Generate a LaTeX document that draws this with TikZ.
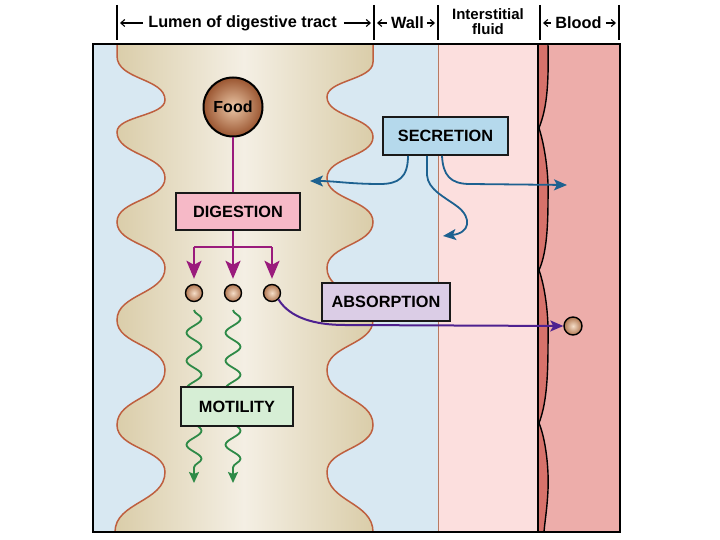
\documentclass[tikz,border=0pt]{standalone}
\usepackage{fontspec}
\setmainfont{Liberation Sans}
\usetikzlibrary{arrows.meta,decorations.pathmorphing,calc}
\definecolor{bluebg}{HTML}{D8E8F2}
\definecolor{pinkbg}{HTML}{FCDFDE}
\definecolor{bloodc}{HTML}{EDADAA}
\definecolor{stripc}{HTML}{D7726B}
\definecolor{lumdark}{HTML}{DACDA9}
\definecolor{lumlight}{HTML}{F4EFE4}
\definecolor{wavec}{HTML}{BE5F3F}
\definecolor{wallc}{HTML}{B97A62}
\definecolor{magc}{HTML}{9A1B7C}
\definecolor{arrblue}{HTML}{1D6190}
\definecolor{purpc}{HTML}{4E2190}
\definecolor{greenc}{HTML}{2E8A47}
\definecolor{digfill}{HTML}{F6B9C7}
\definecolor{secfill}{HTML}{B5D9EC}
\definecolor{absfill}{HTML}{DBCDE6}
\definecolor{motfill}{HTML}{D6EED5}
\definecolor{foodin}{HTML}{EAC6A6}
\definecolor{foodout}{HTML}{9A5530}
\definecolor{ballin}{HTML}{F5DDC8}
\definecolor{ballout}{HTML}{B07650}
\begin{document}
\begin{tikzpicture}[x=1pt,y=-1pt,
  boxnode/.style={draw=black!90, line width=1.6pt, inner sep=0pt,
    font=\fontsize{16.3}{18}\selectfont\bfseries},
  hdr/.style={font=\fontsize{16.3}{14.5}\selectfont\bfseries, inner sep=0pt, align=center},
  hdrsmall/.style={font=\fontsize{15}{15.5}\selectfont\bfseries, inner sep=0pt, align=center},
  hdrarrow/.style={line width=1.1pt, -{Straight Barb[length=4pt,width=7pt]}},
  tick/.style={line width=1.4pt},
  ballnode/.style={circle, draw=black, line width=1.4pt, inner sep=0pt,
    inner color=ballin, outer color=ballout, minimum size=17pt},
  magline/.style={magc, line width=2.4pt},
  magarrow/.style={magc, line width=2.4pt, -{Stealth[length=18pt,width=15pt,inset=4pt]}},
  secarrow/.style={arrblue, line width=1.8pt, -{Stealth[length=13pt,width=11pt,inset=3pt]}},
  absarrow/.style={purpc, line width=2pt, -{Stealth[length=13pt,width=11pt,inset=3pt]}},
  motarrow/.style={greenc, line width=1.8pt, decorate,
    decoration={snake, amplitude=7.5pt, segment length=28pt, post length=9pt},
    -{Stealth[length=11pt,width=10pt,inset=2pt]}}
]
\useasboundingbox (0,0) rectangle (720,540);

% backgrounds
\fill[bluebg] (93,44) rectangle (438,532);
\fill[pinkbg] (438,44) rectangle (538,532);
\fill[bloodc] (538,44) rectangle (620,532);
\fill[stripc] (538,44) -- (548,44)
  .. controls (549,90) and (546,110) .. (539,128)
  .. controls (546,150) and (549,180) .. (548,200)
  .. controls (548,230) and (546,255) .. (539,270)
  .. controls (546,290) and (549,320) .. (548,345)
  .. controls (548,380) and (546,405) .. (539,423)
  .. controls (546,440) and (549,470) .. (548,490)
  .. controls (547,510) and (545,520) .. (544,532)
  -- (538,532) -- cycle;

% lumen
\path[left color=lumdark, right color=lumdark, middle color=lumlight]
  (117,44) -- (117,56)
  .. controls (117,80) and (165,78) .. (165,100)
  .. controls (165,116) and (117,116) .. (117,132)
  .. controls (117,155) and (165,155) .. (165,178)
  .. controls (165,200) and (117,200) .. (117,222)
  .. controls (117,245) and (165,245) .. (165,268)
  .. controls (165,294) and (117,294) .. (117,320)
  .. controls (117,345) and (165,345) .. (165,370)
  .. controls (165,398) and (117,398) .. (117,425)
  .. controls (117,449) and (165,449) .. (165,472)
  .. controls (165,502) and (115,502) .. (115,532)
  -- (373,532)
  .. controls (373,502) and (327,502) .. (327,472)
  .. controls (327,449) and (373,449) .. (373,425)
  .. controls (373,398) and (327,398) .. (327,370)
  .. controls (327,345) and (373,345) .. (373,320)
  .. controls (373,294) and (327,294) .. (327,268)
  .. controls (327,245) and (373,245) .. (373,222)
  .. controls (373,200) and (327,200) .. (327,178)
  .. controls (327,157) and (373,157) .. (373,137)
  .. controls (373,117) and (327,117) .. (327,97)
  .. controls (327,80) and (373,80) .. (373,62)
  -- (373,44) -- cycle;
\draw[wavec, line width=1.5pt]
  (117,44) -- (117,56)
  .. controls (117,80) and (165,78) .. (165,100)
  .. controls (165,116) and (117,116) .. (117,132)
  .. controls (117,155) and (165,155) .. (165,178)
  .. controls (165,200) and (117,200) .. (117,222)
  .. controls (117,245) and (165,245) .. (165,268)
  .. controls (165,294) and (117,294) .. (117,320)
  .. controls (117,345) and (165,345) .. (165,370)
  .. controls (165,398) and (117,398) .. (117,425)
  .. controls (117,449) and (165,449) .. (165,472)
  .. controls (165,502) and (115,502) .. (115,532);
\draw[wavec, line width=1.5pt]
  (373,532)
  .. controls (373,502) and (327,502) .. (327,472)
  .. controls (327,449) and (373,449) .. (373,425)
  .. controls (373,398) and (327,398) .. (327,370)
  .. controls (327,345) and (373,345) .. (373,320)
  .. controls (373,294) and (327,294) .. (327,268)
  .. controls (327,245) and (373,245) .. (373,222)
  .. controls (373,200) and (327,200) .. (327,178)
  .. controls (327,157) and (373,157) .. (373,137)
  .. controls (373,117) and (327,117) .. (327,97)
  .. controls (327,80) and (373,80) .. (373,62)
  -- (373,44);

% wall / interstitial boundary
\draw[wallc, line width=1pt] (438,44) -- (438,532);
% blood boundary
\draw[black, line width=1.4pt] (538,44) -- (538,532);
\draw[black, line width=1.4pt] (548,44)
  .. controls (549,90) and (546,110) .. (539,128)
  .. controls (546,150) and (549,180) .. (548,200)
  .. controls (548,230) and (546,255) .. (539,270)
  .. controls (546,290) and (549,320) .. (548,345)
  .. controls (548,380) and (546,405) .. (539,423)
  .. controls (546,440) and (549,470) .. (548,490)
  .. controls (547,510) and (545,520) .. (544,532);

% outer frame
\draw[black, line width=2pt] (93,44) rectangle (620,532);

% header
\foreach \x in {117,374,438,540,619} \draw[tick] (\x,5) -- (\x,40);
\node[hdr] (hlumen) at (242.5,23) {Lumen of digestive tract};
\node[hdr] (hwall) at (407.5,23) {Wall};
\node[hdrsmall] (hinter) at (488,21.5) {Interstitial\\fluid};
\node[hdr] (hblood) at (578.5,23) {Blood};
\coordinate (t1) at (120,23);
\coordinate (t2) at (371,23);
\coordinate (t3) at (377,23);
\coordinate (t4) at (435,23);
\coordinate (t5) at (543,23);
\coordinate (t6) at (616,23);
\draw[hdrarrow] ([xshift=-5pt]hlumen.west) -- (t1);
\draw[hdrarrow] ([xshift=7pt]hlumen.east) -- (t2);
\draw[hdrarrow] ([xshift=-4pt]hwall.west) -- (t3);
\draw[hdrarrow] ([xshift=3pt]hwall.east) -- (t4);
\draw[hdrarrow] ([xshift=-4pt]hblood.west) -- (t5);
\draw[hdrarrow] ([xshift=4pt]hblood.east) -- (t6);

% nodes
\node[circle, draw=black, line width=2pt, minimum size=59pt, inner sep=0pt,
  inner color=foodin, outer color=foodout,
  font=\fontsize{16}{18}\selectfont\bfseries] (food) at (233,107) {Food};
\node[boxnode, fill=digfill, minimum width=124pt, minimum height=37pt] (dig) at (238,211.5) {DIGESTION};
\node[boxnode, fill=secfill, minimum width=125pt, minimum height=38pt] (sec) at (445.5,136) {SECRETION};
\node[boxnode, fill=absfill, minimum width=128pt, minimum height=38pt] (abs) at (386,302) {ABSORPTION};
\node[ballnode] (b1) at (194,293) {};
\node[ballnode] (b2) at (233,293) {};
\node[ballnode] (b3) at (272,293) {};
\node[ballnode, minimum size=18pt] (bb) at (573,326) {};

% digestion connectors
\draw[magline] (food.south) -- (food.south |- dig.north);
\coordinate (br) at (233,247);
\draw[magline] (food.south |- dig.south) -- (br);
\draw[magline] (b1 |- br) -- (b3 |- br);
\draw[magarrow, shorten >=5pt] (b1 |- br) -- (b1.north);
\draw[magarrow, shorten >=5pt] (br) -- (b2.north);
\draw[magarrow, shorten >=5pt] (b3 |- br) -- (b3.north);

% secretion arrows
\coordinate (s1) at (310,181);
\coordinate (s2) at (443,236);
\coordinate (s3) at (567,185);
\draw[secarrow] ([xshift=-37.5pt]sec.south) .. controls (408,178) and (398,184) .. (380,184)
  .. controls (350,184) and (335,181) .. (s1);
\draw[secarrow] ([xshift=-18.5pt]sec.south) -- (427,175) .. controls (428,190) and (445,197) .. (458,207)
  .. controls (472,218) and (470,233) .. (s2);
\draw[secarrow] ([xshift=-3.5pt]sec.south) .. controls (443,175) and (450,184) .. (470,184) -- (s3);

% absorption arrow
\draw[absarrow] (b3.south east) .. controls (290,318) and (315,325) .. (345,325) -- (bb.west);

% motility
\coordinate (m1s) at (194,310);
\coordinate (m1e) at (194,483);
\coordinate (m2s) at (233,310);
\coordinate (m2e) at (233,483);
\draw[motarrow] (m1s) -- (m1e);
\draw[motarrow] (m2s) -- (m2e);
\node[boxnode, fill=motfill, minimum width=112pt, minimum height=39pt] (mot) at (237,406.5) {MOTILITY};
\end{tikzpicture}
\end{document}
